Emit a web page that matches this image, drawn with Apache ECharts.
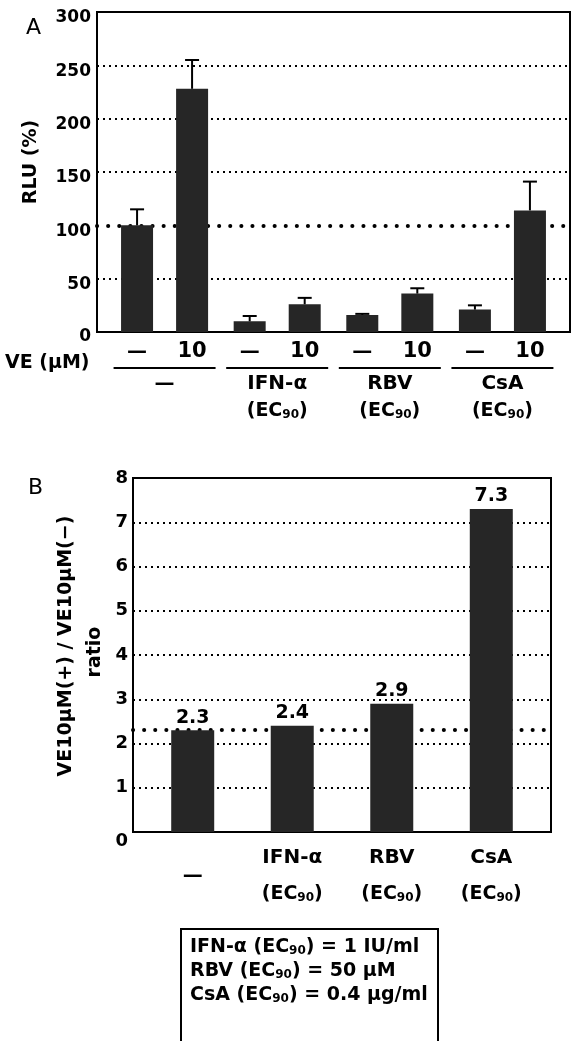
<!DOCTYPE html>
<html>
<head>
<meta charset="utf-8">
<script src="https://cdn.jsdelivr.net/npm/echarts@6/dist/echarts.min.js"></script>
<style>
html, body { margin: 0; padding: 0; background: #fff; }
#chart { width: 572px; height: 1041px; }
</style>
</head>
<body>
<div id="chart"></div>
<script>
// panel A - RLU (%) for each treatment, without VE and with VE 10 uM
var groupsA = ['—', 'IFN-α', 'RBV', 'CsA'];
var veLabels = ['—', '10'];
var rluNoVE = [100, 10, 16, 21];
var rluNoVEErr = [15, 5, 1, 4];
var rluVE10 = [228, 26, 36, 114];
var rluVE10Err = [27, 6, 5, 27];
var ticksA = [0, 50, 100, 150, 200, 250, 300];
var refA = 100;

// panel B - VE10uM(+) / VE10uM(-) ratio
var groupsB = ['—', 'IFN-α', 'RBV', 'CsA'];
var ratio = [2.3, 2.4, 2.9, 7.3];
var ticksB = [0, 1, 2, 3, 4, 5, 6, 7, 8];
var refB = 2.3;

// dose box
var doseNames = ['IFN-α', 'RBV', 'CsA'];
var doseValues = ['1 IU/ml', '50 μM', '0.4 μg/ml'];

var FONT = 'DejaVu Sans';
var BAR_COLOR = '#262626';
var idx = [0, 1, 2, 3];
var SMALL_DOTS = { color: '#000', width: 2, type: [2, 4] };
var BIG_DOTS = { color: '#000', width: 4, type: [0.1, 11], cap: 'round' };

var chart = echarts.init(document.getElementById('chart'));

function ecLine(lh, size) {
    return {
        ec: { fontFamily: FONT, fontWeight: 'bold', fontSize: size, color: '#000', lineHeight: lh, align: 'center', verticalAlign: 'middle' },
        sub: { fontFamily: FONT, fontWeight: 'bold', fontSize: 12, color: '#000', lineHeight: lh, height: lh - 8, align: 'center', verticalAlign: 'bottom' }
    };
}

function yAxisOpt(grid, ticks, size, margin, shift, zeroShift, grid_lines) {
    return {
        gridIndex: grid, type: 'value',
        min: ticks[0], max: ticks[ticks.length - 1], interval: ticks[1] - ticks[0],
        axisLine: { show: true, onZero: false, lineStyle: { color: '#000', width: 2 } },
        axisTick: { show: false },
        splitLine: { show: grid_lines, lineStyle: SMALL_DOTS },
        axisLabel: {
            margin: margin,
            formatter: function (v) { return v === 0 ? '{z|' + v + '}' : '{n|' + v + '}'; },
            rich: {
                n: { fontFamily: FONT, fontWeight: 'bold', fontSize: size, color: '#000', padding: [shift * 2, 0, 0, 0] },
                z: { fontFamily: FONT, fontWeight: 'bold', fontSize: size, color: '#000', padding: [zeroShift * 2, 0, 0, 0] }
            }
        }
    };
}

function xAxisOpt(grid, margin, formatter, rich) {
    return {
        gridIndex: grid, type: 'value', min: -0.6, max: 3.6,
        axisLine: { onZero: false, lineStyle: { color: '#000', width: 2 } },
        axisTick: { show: false }, splitLine: { show: false },
        axisLabel: { customValues: idx, margin: margin, formatter: formatter, rich: rich }
    };
}

// gridlines of panel A drawn as marker lines so the reference line at 100 has only big dots
function markLinesA() {
    var inner = ticksA.slice(1, -1).filter(function (v) { return v !== refA; });
    var data = inner.map(function (v) { return { yAxis: v, lineStyle: SMALL_DOTS }; });
    data.push({ yAxis: refA, lineStyle: BIG_DOTS });
    return { silent: true, z: 1, symbol: ['none', 'none'], label: { show: false }, data: data };
}

function errSeries(means, errs, offset) {
    return {
        type: 'custom', xAxisIndex: 0, yAxisIndex: 0, z: 3, silent: true,
        data: means.map(function (m, i) { return [i, m, m + errs[i]]; }),
        renderItem: function (params, api) {
            var base = api.coord([api.value(0), api.value(1)]);
            var top = api.coord([api.value(0), api.value(2)]);
            var x = base[0] + offset;
            var st = { stroke: '#000', lineWidth: 2 };
            return {
                type: 'group', children: [
                    { type: 'line', shape: { x1: x, y1: base[1], x2: x, y2: top[1] }, style: st },
                    { type: 'line', shape: { x1: x - 7, y1: top[1], x2: x + 7, y2: top[1] }, style: st }
                ]
            };
        }
    };
}

var richA = Object.assign({
    d: { fontFamily: FONT, fontWeight: 'bold', fontSize: 20, color: '#000', width: 55, lineHeight: 30, align: 'center', verticalAlign: 'middle' },
    t: { fontFamily: FONT, fontWeight: 'bold', fontSize: 21, color: '#000', width: 55, lineHeight: 30, align: 'center', verticalAlign: 'middle' },
    ul: { fontSize: 2, width: 102, height: 2, lineHeight: 2, backgroundColor: '#000', align: 'center', verticalAlign: 'middle' },
    g: { fontFamily: FONT, fontWeight: 'bold', fontSize: 20, color: '#000', lineHeight: 29, align: 'center', verticalAlign: 'middle' }
}, ecLine(26, 19));

var richB = Object.assign({
    dash: { fontFamily: FONT, fontWeight: 'bold', fontSize: 20, color: '#000', lineHeight: 72, align: 'center', verticalAlign: 'middle' },
    g: { fontFamily: FONT, fontWeight: 'bold', fontSize: 20, color: '#000', lineHeight: 36, align: 'center', verticalAlign: 'middle' }
}, ecLine(36, 19));

var option = {
    animation: false,
    backgroundColor: '#fff',
    grid: [
        { left: 97, right: 2, top: 12, bottom: 709, show: true, borderColor: '#000', borderWidth: 2, containLabel: false, outerBoundsMode: 'none' },
        { left: 133, right: 21, top: 478, bottom: 209, show: true, borderColor: '#000', borderWidth: 2, containLabel: false, outerBoundsMode: 'none' }
    ],
    xAxis: [
        xAxisOpt(0, 5, function (v) {
            var i = Math.round(v);
            var s = '{d|' + veLabels[0] + '}{t|' + veLabels[1] + '}\n{ul| }\n{g|' + groupsA[i] + '}';
            if (i > 0) s += '\n{ec|(EC}{sub|90}{ec|)}';
            return s;
        }, richA),
        xAxisOpt(1, 8, function (v) {
            var i = Math.round(v);
            if (i === 0) return '{dash|' + groupsB[i] + '}';
            return '{g|' + groupsB[i] + '}\n{ec|(EC}{sub|90}{ec|)}';
        }, richB)
    ],
    yAxis: [
        yAxisOpt(0, ticksA, 17, 6, 6, 5, false),
        yAxisOpt(1, ticksB, 18, 5, 0, 9, true)
    ],
    series: [
        {
            type: 'bar', xAxisIndex: 0, yAxisIndex: 0, barWidth: 32, barGap: '72%',
            itemStyle: { color: BAR_COLOR },
            data: rluNoVE.map(function (v, i) { return [i, v]; }),
            markLine: markLinesA()
        },
        {
            type: 'bar', xAxisIndex: 0, yAxisIndex: 0, barWidth: 32, barGap: '72%',
            itemStyle: { color: BAR_COLOR },
            data: rluVE10.map(function (v, i) { return [i, v]; })
        },
        errSeries(rluNoVE, rluNoVEErr, -27.5),
        errSeries(rluVE10, rluVE10Err, 27.5),
        {
            type: 'bar', xAxisIndex: 1, yAxisIndex: 1, barWidth: 43,
            itemStyle: { color: BAR_COLOR },
            data: ratio.map(function (v, i) { return [i, v]; }),
            label: {
                show: true, position: 'top', distance: 3,
                fontFamily: FONT, fontWeight: 'bold', fontSize: 19, color: '#000',
                formatter: function (p) { return p.value[1].toFixed(1); }
            },
            markLine: {
                silent: true, z: 1, symbol: ['none', 'none'], label: { show: false },
                lineStyle: BIG_DOTS, data: [{ yAxis: refB }]
            }
        }
    ],
    graphic: [
        { type: 'text', x: 26, y: 28, style: { text: 'A', font: '22px "DejaVu Sans"', fill: '#000', verticalAlign: 'middle' } },
        { type: 'text', x: 28, y: 488, style: { text: 'B', font: '22px "DejaVu Sans"', fill: '#000', verticalAlign: 'middle' } },
        { type: 'text', x: 31, y: 162, rotation: Math.PI / 2, style: { text: 'RLU (%)', font: 'bold 19px "DejaVu Sans"', fill: '#000', align: 'center', verticalAlign: 'middle' } },
        { type: 'text', x: 5, y: 363, style: { text: 'VE (μM)', font: 'bold 19px "DejaVu Sans"', fill: '#000', verticalAlign: 'middle' } },
        { type: 'text', x: 66, y: 646, rotation: Math.PI / 2, style: { text: 'VE10μM(+) / VE10μM(−)', font: 'bold 19px "DejaVu Sans"', fill: '#000', align: 'center', verticalAlign: 'middle' } },
        { type: 'text', x: 95, y: 652, rotation: Math.PI / 2, style: { text: 'ratio', font: 'bold 19px "DejaVu Sans"', fill: '#000', align: 'center', verticalAlign: 'middle' } },
        { type: 'rect', shape: { x: 181, y: 929, width: 257, height: 200 }, style: { fill: 'none', stroke: '#000', lineWidth: 2 } }
    ].concat(doseNames.map(function (n, i) {
        return {
            type: 'text', x: 190, y: 947 + i * 24,
            style: {
                text: '{t|' + n + ' (EC}{sub|90}{t|) = ' + doseValues[i] + '}',
                verticalAlign: 'middle',
                rich: {
                    t: { fontFamily: FONT, fontWeight: 'bold', fontSize: 19, fill: '#000', lineHeight: 24, verticalAlign: 'middle' },
                    sub: { fontFamily: FONT, fontWeight: 'bold', fontSize: 12, fill: '#000', lineHeight: 24, height: 16, verticalAlign: 'bottom' }
                }
            }
        };
    }))
};

chart.setOption(option);
</script>
</body>
</html>
